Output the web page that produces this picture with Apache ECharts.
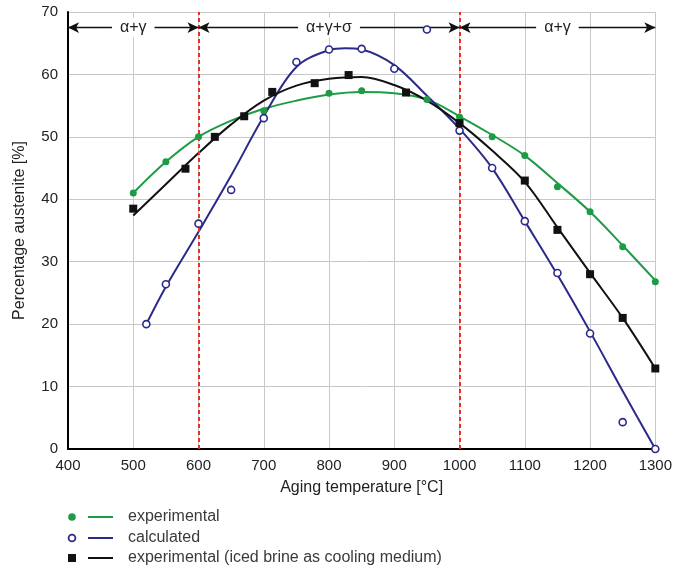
<!DOCTYPE html>
<html>
<head>
<meta charset="utf-8">
<script src="https://cdn.jsdelivr.net/npm/echarts@6/dist/echarts.min.js"></script>
<style>html,body{margin:0;padding:0;background:#fff;}#c{width:675px;height:569px;}</style>
</head>
<body>
<div id="c"></div>
<script>
// ---- data ----
var xTicks = [400, 500, 600, 700, 800, 900, 1000, 1100, 1200, 1300];
var yTicks = [0, 10, 20, 30, 40, 50, 60, 70];

// experimental (green)
var expTemps = [500, 550, 600, 700, 800, 850, 950, 1000, 1050, 1100, 1150, 1200, 1250, 1300];
var expValues = [41, 46, 50, 54.2, 57, 57.4, 56, 53.2, 50, 47, 42, 38, 32.4, 26.8];
var expFitTemps = [500, 550, 600, 650, 700, 750, 800, 850, 900, 950, 1000, 1050, 1100, 1150, 1200, 1250, 1300];
var expFitValues = [41, 46, 50, 52.6, 54.5, 55.8, 56.8, 57.2, 57, 56, 53.3, 50.3, 47, 42.6, 38, 32.6, 27];

// calculated (blue)
var calcTemps = [520, 550, 600, 650, 700, 750, 800, 850, 900, 950, 1000, 1050, 1100, 1150, 1200, 1250, 1300];
var calcValues = [20, 26.4, 36.1, 41.5, 53, 62, 64, 64.1, 60.9, 67.2, 51, 45, 36.5, 28.2, 18.5, 4.3, 0];
var calcFitTemps = [520, 550, 600, 650, 700, 750, 800, 825, 850, 900, 950, 1000, 1050, 1100, 1150, 1200, 1250, 1300];
var calcFitValues = [20, 26, 34.8, 43.8, 53.3, 61.2, 63.9, 64.2, 64, 61.5, 56.6, 51.3, 45, 36.5, 27.9, 18.8, 9.3, 0];

// experimental, iced brine (black)
var brineTemps = [500, 580, 625, 670, 713, 778, 830, 918, 1000, 1100, 1150, 1200, 1250, 1300];
var brineValues = [38.5, 44.9, 50, 53.3, 57.2, 58.6, 59.9, 57.1, 52.2, 43, 35.1, 28, 21, 12.9];
var brineFitTemps = [500, 550, 600, 650, 700, 750, 800, 850, 900, 950, 1000, 1050, 1100, 1150, 1200, 1250, 1300];
var brineFitValues = [37.4, 42.4, 47.4, 52, 55.8, 58.2, 59.3, 59.6, 58.3, 55.8, 52.2, 47.8, 42.8, 35.5, 28.2, 21, 12.9];

// phase regions
var phaseBounds = [600, 1000];
var regions = [
  { from: 400, to: 600, label: 'α+γ' },
  { from: 600, to: 1000, label: 'α+γ+σ' },
  { from: 1000, to: 1300, label: 'α+γ' }
];
var regionLevel = 67.5;

var legendItems = ['experimental', 'calculated', 'experimental (iced brine as cooling medium)'];

// ---- chart ----
var GREEN = '#1e9c45', BLUE = '#2b2a8a', BLACK = '#111111', RED = '#e8302a';
function pairs(xs, ys) { return xs.map(function (x, i) { return [x, ys[i]]; }); }

var chart = echarts.init(document.getElementById('c'), null, { renderer: 'canvas' });
var FONT = 'Arial, "Liberation Sans", sans-serif';

var regionLines = regions.map(function (r) {
  return [
    { coord: [r.from, regionLevel], label: { show: true, formatter: r.label } },
    { coord: [r.to, regionLevel] }
  ];
});

var option = {
  backgroundColor: '#ffffff',
  animation: false,
  grid: { left: 68, right: 19, top: 12, bottom: 120 },
  xAxis: {
    type: 'value', min: xTicks[0], max: xTicks[xTicks.length - 1], interval: 100,
    name: 'Aging temperature [°C]', nameLocation: 'middle', nameGap: 31,
    nameTextStyle: { fontFamily: FONT, fontSize: 16, color: '#222' },
    axisLine: { show: true, onZero: false, lineStyle: { color: '#000', width: 2 } },
    axisTick: { show: false },
    axisLabel: { fontFamily: FONT, fontSize: 15, color: '#222', margin: 9, formatter: function (v) { return String(v); } },
    splitLine: { show: true, lineStyle: { color: '#c8c8c8', width: 1 } }
  },
  yAxis: {
    type: 'value', min: yTicks[0], max: yTicks[yTicks.length - 1], interval: 10,
    name: 'Percentage austenite [%]', nameLocation: 'middle', nameGap: 40,
    nameTextStyle: { fontFamily: FONT, fontSize: 16, color: '#222' },
    axisLine: { show: true, lineStyle: { color: '#000', width: 2 } },
    axisTick: { show: false },
    axisLabel: { fontFamily: FONT, fontSize: 15, color: '#222', margin: 10 },
    splitLine: { show: true, lineStyle: { color: '#c8c8c8', width: 1 } }
  },
  series: [
    {
      name: 'bounds', type: 'line', data: [], silent: true,
      markLine: {
        silent: true, symbol: ['none', 'none'], animation: false,
        lineStyle: { color: RED, width: 2, type: [4, 3] },
        label: { show: false },
        data: phaseBounds.map(function (b) { return [{ coord: [b, 0] }, { coord: [b, 70] }]; })
      }
    },
    {
      name: 'regions', type: 'line', data: [], silent: true, z: 5,
      markLine: {
        silent: true, animation: false,
        symbol: ['arrow', 'arrow'], symbolSize: [8, 11],
        lineStyle: { color: '#111', width: 1.3, type: 'solid' },
        label: {
          show: true, position: 'insideMiddle', fontFamily: FONT, fontSize: 16, color: '#222',
          backgroundColor: '#fff', padding: [2, 8], distance: 0
        },
        data: regionLines
      }
    },
    { name: 'expFit', type: 'line', smooth: 0.35, showSymbol: false, data: pairs(expFitTemps, expFitValues),
      lineStyle: { color: GREEN, width: 2 }, z: 3 },
    { name: 'calcFit', type: 'line', smooth: 0.35, showSymbol: false, data: pairs(calcFitTemps, calcFitValues),
      lineStyle: { color: BLUE, width: 2 }, z: 3 },
    { name: 'brineFit', type: 'line', smooth: 0.35, showSymbol: false, data: pairs(brineFitTemps, brineFitValues),
      lineStyle: { color: BLACK, width: 2 }, z: 3 },
    { name: legendItems[0], type: 'scatter', data: pairs(expTemps, expValues), symbol: 'circle', symbolSize: 7,
      itemStyle: { color: GREEN, opacity: 1 }, z: 6 },
    { name: legendItems[1], type: 'scatter', data: pairs(calcTemps, calcValues), symbol: 'circle', symbolSize: 7,
      itemStyle: { color: '#fff', borderColor: BLUE, borderWidth: 1.6, opacity: 1 }, z: 6 },
    { name: legendItems[2], type: 'scatter', data: pairs(brineTemps, brineValues), symbol: 'rect', symbolSize: 8,
      itemStyle: { color: BLACK, opacity: 1 }, z: 6 }
  ],
  graphic: [
    { type: 'circle', shape: { cx: 72, cy: 517, r: 3.8 }, style: { fill: GREEN } },
    { type: 'line', shape: { x1: 88, y1: 517, x2: 113, y2: 517 }, style: { stroke: GREEN, lineWidth: 2 } },
    { type: 'text', x: 128, y: 517, style: { text: legendItems[0], font: '16px ' + FONT, fill: '#3a3a3a', verticalAlign: 'middle' } },
    { type: 'circle', shape: { cx: 72, cy: 538, r: 3.4 }, style: { fill: '#fff', stroke: BLUE, lineWidth: 1.8 } },
    { type: 'line', shape: { x1: 88, y1: 538, x2: 113, y2: 538 }, style: { stroke: BLUE, lineWidth: 2 } },
    { type: 'text', x: 128, y: 538, style: { text: legendItems[1], font: '16px ' + FONT, fill: '#3a3a3a', verticalAlign: 'middle' } },
    { type: 'rect', shape: { x: 68, y: 554, width: 8, height: 8 }, style: { fill: BLACK } },
    { type: 'line', shape: { x1: 88, y1: 558, x2: 113, y2: 558 }, style: { stroke: BLACK, lineWidth: 2 } },
    { type: 'text', x: 128, y: 558, style: { text: legendItems[2], font: '16px ' + FONT, fill: '#3a3a3a', verticalAlign: 'middle' } }
  ]
};
chart.setOption(option);
</script>
</body>
</html>
